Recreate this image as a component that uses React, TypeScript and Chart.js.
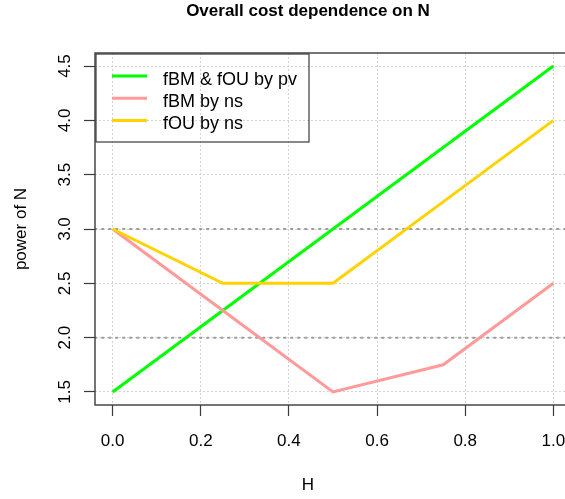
import { useEffect, useRef } from "react";
import { Chart, registerables } from "chart.js";

Chart.register(...registerables);

// Hurst exponent values where each method's cost exponent is evaluated
const hValues = [0, 0.25, 0.5, 0.75, 1];
// Exponent of N in the overall cost for each method
const pvPower = [1.5, 2.25, 3, 3.75, 4.5];
const fbmNsPower = [3, 2.25, 1.5, 1.75, 2.5];
const fouNsPower = [3, 2.5, 2.5, 3.25, 4];

const seriesLabels = ["fBM & fOU by pv", "fBM by ns", "fOU by ns"];
const seriesColors = ["#00FF00", "#FF9A9A", "#FFD200"];

// Horizontal reference levels
const referenceLevels = [3, 2];

const xTicks = [0, 0.2, 0.4, 0.6, 0.8, 1.0];
const xTickLabels = ["0.0", "0.2", "0.4", "0.6", "0.8", "1.0"];
const yTicks = [1.5, 2, 2.5, 3, 3.5, 4, 4.5];
const yTickLabels = ["1.5", "2.0", "2.5", "3.0", "3.5", "4.0", "4.5"];

const titleText = "Overall cost dependence on N";
const xTitle = "H";
const yTitle = "power of N";

// Axis limits with 4% padding on each side
const xMin = -0.04;
const xMax = 1.04;
const yMin = 1.38;
const yMax = 4.62;

const FONT = "'Liberation Sans', Arial, Helvetica, sans-serif";

const toPoints = (ys: number[]) => hValues.map((x, i) => ({ x, y: ys[i] }));

const framePlugin = {
  id: "frameAndText",
  afterDatasetsDraw(chart: any) {
    const { ctx, chartArea, scales } = chart;
    const xs = scales.x;
    const ys = scales.y;
    ctx.save();

    // plot box
    ctx.strokeStyle = "#3a3a3a";
    ctx.lineWidth = 1.4;
    ctx.setLineDash([]);
    ctx.strokeRect(
      chartArea.left,
      chartArea.top,
      chartArea.right - chartArea.left,
      chartArea.bottom - chartArea.top
    );

    ctx.fillStyle = "#000";

    // x tick labels
    ctx.font = `17px ${FONT}`;
    ctx.textAlign = "center";
    ctx.textBaseline = "alphabetic";
    xTicks.forEach((v, i) => {
      ctx.fillText(xTickLabels[i], xs.getPixelForValue(v), chartArea.bottom + 41);
    });

    // y tick labels, rotated
    yTicks.forEach((v, i) => {
      ctx.save();
      ctx.translate(chartArea.left - 25.5, ys.getPixelForValue(v));
      ctx.rotate(-Math.PI / 2);
      ctx.textAlign = "center";
      ctx.fillText(yTickLabels[i], 0, 0);
      ctx.restore();
    });

    // axis titles; the heading and x title sit centred on the visible figure
    const titleX = chart.width / 2 + 22;
    const midY = (chartArea.top + chartArea.bottom) / 2;
    ctx.fillText(xTitle, titleX, chartArea.bottom + 85);
    ctx.save();
    ctx.translate(chartArea.left - 69, midY);
    ctx.rotate(-Math.PI / 2);
    ctx.fillText(yTitle, 0, 0);
    ctx.restore();

    // main title
    ctx.font = `bold 17px ${FONT}`;
    ctx.fillText(titleText, titleX, 16);

    // legend
    const lx = chartArea.left + 1;
    const ly = chartArea.top + 1;
    ctx.strokeStyle = "#3a3a3a";
    ctx.lineWidth = 1.2;
    ctx.strokeRect(lx, ly, 213, 88);
    ctx.font = `18px ${FONT}`;
    ctx.textAlign = "left";
    seriesLabels.forEach((label, i) => {
      const rowY = ly + 22 + i * 22.3;
      ctx.strokeStyle = seriesColors[i];
      ctx.lineWidth = 3;
      ctx.beginPath();
      ctx.moveTo(lx + 16, rowY);
      ctx.lineTo(lx + 51, rowY);
      ctx.stroke();
      ctx.fillStyle = "#000";
      ctx.fillText(label, lx + 67, rowY + 8.5);
    });

    ctx.restore();
  },
};

export default function App() {
  const canvasRef = useRef<HTMLCanvasElement | null>(null);

  useEffect(() => {
    const canvas = canvasRef.current;
    if (!canvas) return;

    const refDatasets = referenceLevels.map((lvl) => ({
      label: `ref ${lvl}`,
      data: [
        { x: xMin, y: lvl },
        { x: xMax, y: lvl },
      ],
      borderColor: "#9c9c9c",
      borderWidth: 2,
      borderDash: [1.5, 5.5],
      borderCapStyle: "round" as const,
      pointRadius: 0,
      order: 10,
    }));

    const seriesData = [pvPower, fbmNsPower, fouNsPower];
    const lineDatasets = seriesData.map((ys, i) => ({
      label: seriesLabels[i],
      data: toPoints(ys),
      borderColor: seriesColors[i],
      borderWidth: 3,
      pointRadius: 0,
      tension: 0,
      order: 3 - i,
    }));

    const chart = new Chart(canvas, {
      type: "line",
      data: { datasets: [...refDatasets, ...lineDatasets] },
      options: {
        responsive: false,
        animation: false,
        devicePixelRatio: 1,
        layout: { padding: { top: 53, right: 1, left: 0, bottom: 0 } },
        plugins: {
          legend: { display: false },
          tooltip: { enabled: false },
          title: { display: false },
        },
        scales: {
          x: {
            type: "linear",
            min: xMin,
            max: xMax,
            afterBuildTicks: (s: any) => {
              s.ticks = xTicks.map((value) => ({ value }));
            },
            afterFit: (s: any) => {
              s.height = 94;
            },
            ticks: { display: false },
            grid: {
              color: "#d3d3d3",
              lineWidth: 1,
              drawTicks: true,
              tickLength: 11,
              tickColor: "#3a3a3a",
              tickWidth: 1.2,
            },
            border: { display: false, dash: [2, 2] },
          },
          y: {
            type: "linear",
            min: yMin,
            max: yMax,
            afterBuildTicks: (s: any) => {
              s.ticks = yTicks.map((value) => ({ value }));
            },
            afterFit: (s: any) => {
              s.width = 95;
            },
            ticks: { display: false },
            grid: {
              color: "#d3d3d3",
              lineWidth: 1,
              drawTicks: true,
              tickLength: 11,
              tickColor: "#3a3a3a",
              tickWidth: 1.2,
            },
            border: { display: false, dash: [2, 2] },
          },
        },
      },
      plugins: [framePlugin],
    });

    return () => chart.destroy();
  }, []);

  return (
    <div
      style={{
        position: "absolute",
        left: 0,
        top: 0,
        width: 565,
        height: 499,
        overflow: "hidden",
        background: "#fff",
      }}
    >
      <canvas ref={canvasRef} width={572} height={499} style={{ display: "block" }} />
    </div>
  );
}
